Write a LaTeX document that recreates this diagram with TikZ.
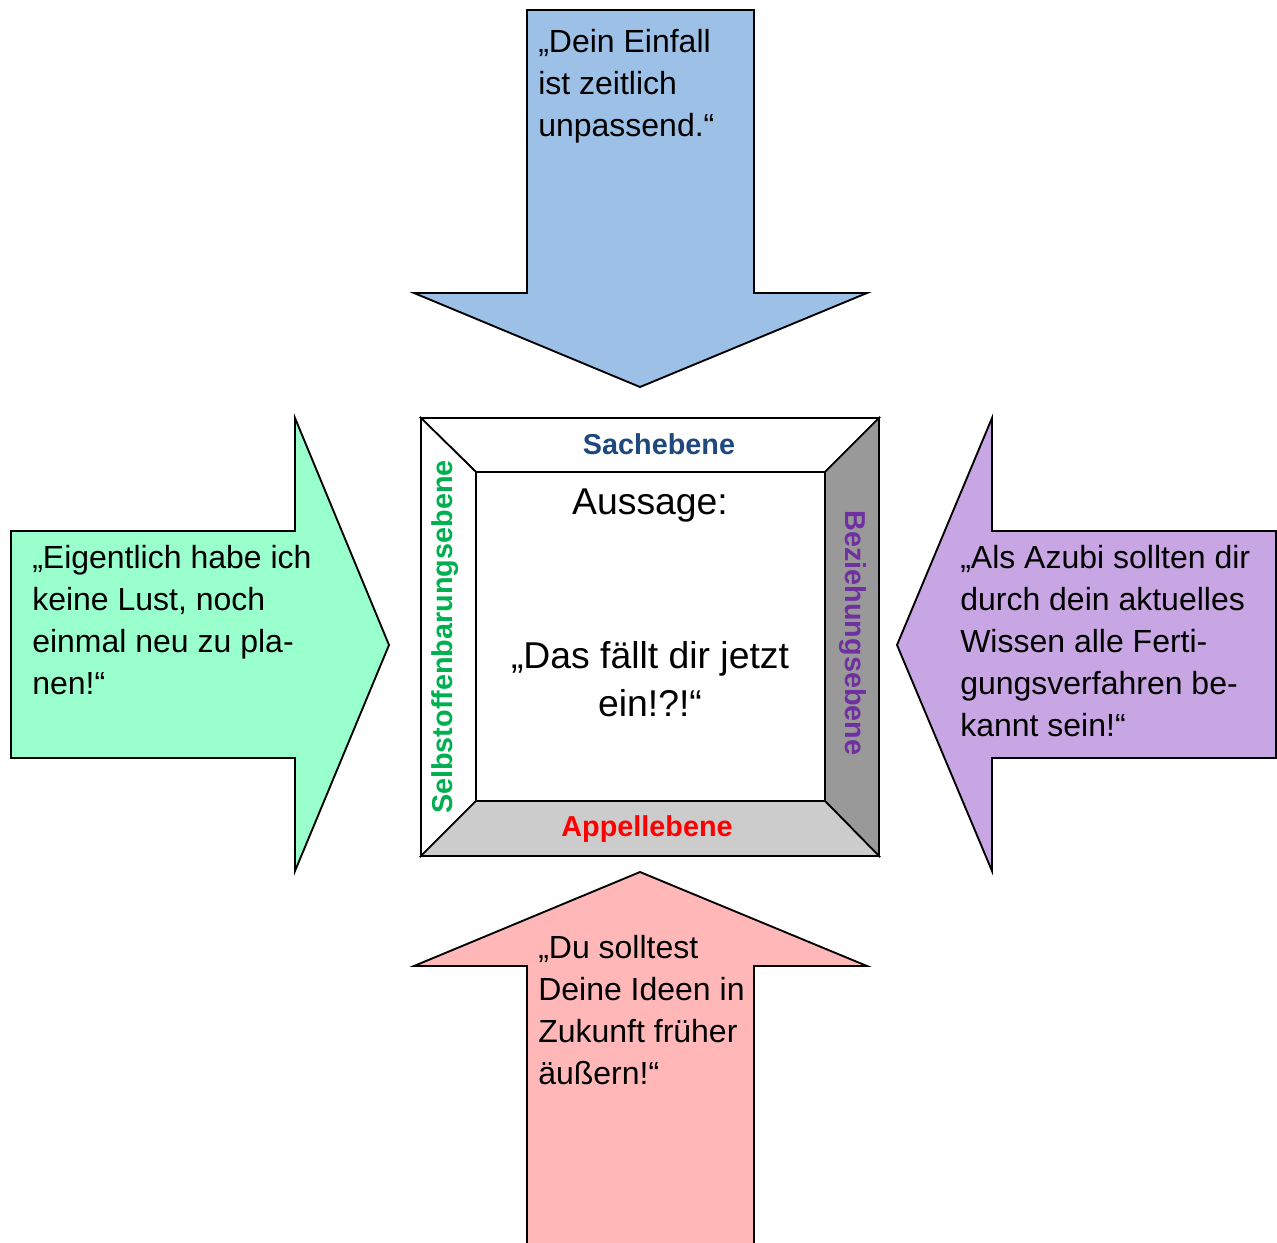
\documentclass[tikz,border=0pt]{standalone}
\usepackage{fontspec}
\setmainfont{Liberation Sans}
\usetikzlibrary{positioning}
\definecolor{sachblue}{RGB}{31,73,125}
\definecolor{selbstgreen}{RGB}{0,176,80}
\definecolor{bezpurple}{RGB}{112,48,160}
\definecolor{arrowblue}{RGB}{157,192,231}
\definecolor{arrowgreen}{RGB}{153,255,204}
\definecolor{arrowpurple}{RGB}{200,165,227}
\definecolor{arrowpink}{RGB}{255,183,183}
\tikzset{
    raw arrow/.style={draw=black, line width=1.4pt, line join=miter},
    sach arrow/.style={raw arrow, fill=arrowblue},
    selbst arrow/.style={raw arrow, fill=arrowgreen},
    bez arrow/.style={raw arrow, fill=arrowpurple},
    appell arrow/.style={raw arrow, fill=arrowpink},
    frame side/.style={draw=black, line width=1.3pt},
    quote/.style={anchor=base west, align=left, inner sep=0pt, font=\fontsize{24}{31.5}\selectfont},
    statement/.style={anchor=base, align=center, inner sep=0pt, font=\fontsize{28}{36}\selectfont},
    level/.style={inner sep=0pt, font=\bfseries\fontsize{21.6}{26}\selectfont}
}

\begin{document}
\begin{tikzpicture}[x=0.75pt, y=-0.75pt]
	\useasboundingbox (0,0) rectangle (1277,1242);
	% arrows
	\draw[sach arrow] (527,10) -- (754,10) -- (754,293) -- (867,293) -- (640,387)
		-- (414,293) -- (527,293) -- cycle;
	\draw[appell arrow] (527,1250) -- (527,966) -- (414,966) -- (640,872)
		-- (867,966) -- (754,966) -- (754,1250);
	\draw[selbst arrow] (11,531) -- (295,531) -- (295,418) -- (389,645)
		-- (295,871) -- (295,758) -- (11,758) -- cycle;
	\draw[bez arrow] (1276,531) -- (992,531) -- (992,418) -- (897,645)
		-- (992,871) -- (992,758) -- (1276,758) -- cycle;
	% frame
	\draw[frame side, fill=white] (421,418) -- (879,418) -- (825,472) -- (476,472) -- cycle;
	\draw[frame side, fill=white] (421,418) -- (476,472) -- (476,801) -- (421,856) -- cycle;
	\draw[frame side, fill=black!40] (879,418) -- (879,856) -- (825,801) -- (825,472) -- cycle;
	\draw[frame side, fill=black!20] (421,856) -- (879,856) -- (825,801) -- (476,801) -- cycle;
	\draw[line width=1.8pt] (421,418) rectangle (879,856);
	% texts (anchored at the baseline of the last line)
	\node[quote] (sachquote) at (538,136) {„Dein Einfall\\ist zeitlich\\unpassend.“};
	\node[quote] (selbstquote) at (32,694) {„Eigentlich habe ich\\keine Lust, noch\\einmal neu zu pla-\\nen!“};
	\node[quote] (bezquote) at (960,736) {„Als Azubi sollten dir\\durch dein aktuelles\\Wissen alle Ferti-\\gungsverfahren be-\\kannt sein!“};
	\node[quote] (appellquote) at (538,1084) {„Du solltest\\Deine Ideen in\\Zukunft früher\\äußern!“};
	\node[statement] (aussage) at (650,514) {Aussage:};
	\node[statement] (satz) at (650,716) {„Das fällt dir jetzt\\ein!?!“};
	\node[level, text=sachblue] (sach) at (659,444) {Sachebene};
	\node[level, text=red] (appell) at (647,829) {Appellebene};
	\node[level, text=selbstgreen, rotate=90] (selbst) at (445,637) {Selbstoffenbarungsebene};
	\node[level, text=bezpurple, rotate=-90] (bez) at (853,633) {Beziehungsebene};
\end{tikzpicture}
\end{document}
